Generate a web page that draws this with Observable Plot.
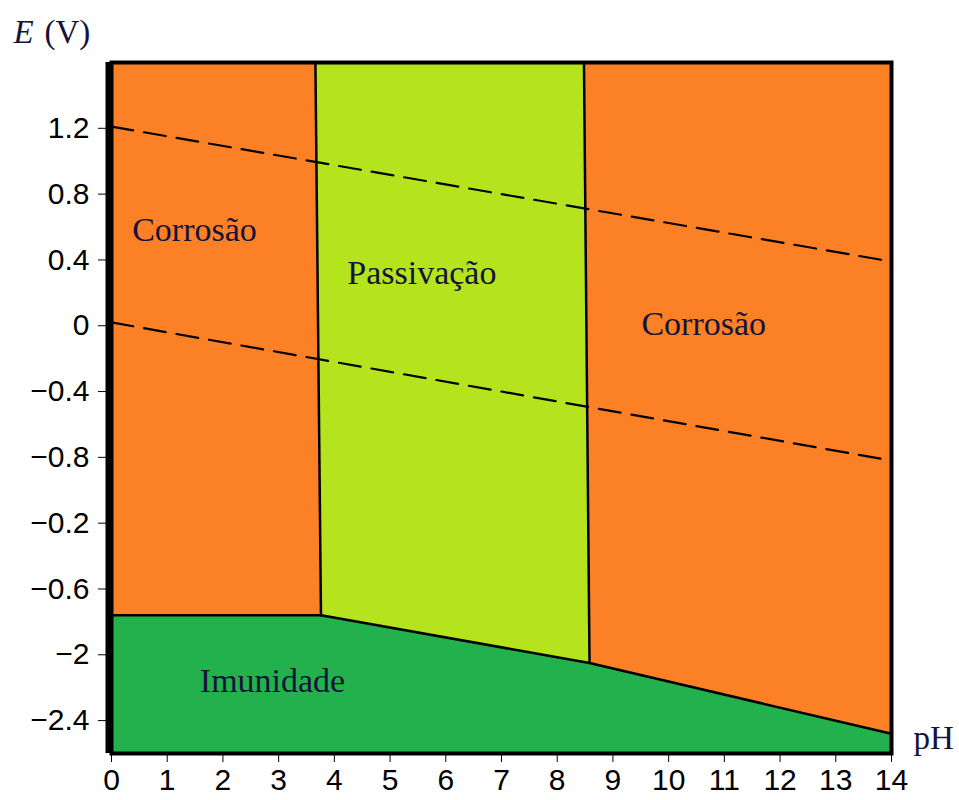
<!DOCTYPE html>
<html>
<head>
<meta charset="utf-8">
<script src="https://cdn.jsdelivr.net/npm/d3@7"></script>
<script src="https://cdn.jsdelivr.net/npm/@observablehq/plot@0.6"></script>
<style>
  html, body { margin: 0; padding: 0; background: #fff; }
</style>
</head>
<body>
<div id="chart"></div>
<script>
// ---- data ----
const phTicks = [0,1,2,3,4,5,6,7,8,9,10,11,12,13,14];
const eTicks = [1.2, 0.8, 0.4, 0, -0.4, -0.8, -1.2, -1.6, -2.0, -2.4];
const eTickLabels = ["1.2","0.8","0.4","0","\u22120.4","\u22120.8","\u22120.2","\u22120.6","\u22122","\u22122.4"];
const eDomain = [-2.6, 1.6];
const phDomain = [0, 14];

// immunity (lower) boundary
const immunityPH = [0, 3.76, 8.58, 14];
const immunityE  = [-1.76, -1.76, -2.05, -2.48];
// vertical-ish boundaries [top pH, bottom pH]
const leftBoundaryPH  = [3.66, 3.76];
const rightBoundaryPH = [8.48, 8.58];

// water stability lines (dashed)
const o2PH = [0, 14], o2E = [1.21, 0.39];
const h2PH = [0, 14], h2E = [0.02, -0.82];

// region labels
const regionNames = ["Corrosão", "Passivação", "Corrosão", "Imunidade"];
const labelPH = [1.49, 5.57, 10.63, 2.89];
const labelE  = [0.58, 0.32, 0.01, -2.16];

const colors = { corrosion: "#FC8026", passivation: "#B5E31E", immunity: "#22B14C" };

// ---- build polygons from the values ----
const eTop = eDomain[1], eBot = eDomain[0];
const zip = (xs, ys) => xs.map((x, i) => ({ph: x, e: ys[i]}));
const leftCorr = [
  {ph: phDomain[0], e: eTop}, {ph: leftBoundaryPH[0], e: eTop},
  {ph: leftBoundaryPH[1], e: immunityE[1]}, {ph: phDomain[0], e: immunityE[0]}
];
const passiv = [
  {ph: leftBoundaryPH[0], e: eTop}, {ph: rightBoundaryPH[0], e: eTop},
  {ph: rightBoundaryPH[1], e: immunityE[2]}, {ph: leftBoundaryPH[1], e: immunityE[1]}
];
const rightCorr = [
  {ph: rightBoundaryPH[0], e: eTop}, {ph: phDomain[1], e: eTop},
  {ph: phDomain[1], e: immunityE[3]}, {ph: rightBoundaryPH[1], e: immunityE[2]}
];
const immun = [
  ...zip(immunityPH, immunityE),
  {ph: phDomain[1], e: eBot}, {ph: phDomain[0], e: eBot}
];
const immunityLine = zip(immunityPH, immunityE);
const leftLine = [{ph: leftBoundaryPH[0], e: eTop}, {ph: leftBoundaryPH[1], e: immunityE[1]}];
const rightLine = [{ph: rightBoundaryPH[0], e: eTop}, {ph: rightBoundaryPH[1], e: immunityE[2]}];
const labels = regionNames.map((t, i) => ({t, ph: labelPH[i], e: labelE[i]}));

const serif = "'Liberation Serif', 'Times New Roman', serif";
const textColor = "#14143a";

const poly = (data, fill) => Plot.line(data, {x: "ph", y: "e", fill, stroke: "none", curve: "linear-closed"});

const chart = Plot.plot({
  width: 959,
  height: 800,
  marginLeft: 111,
  marginRight: 68,
  marginTop: 62,
  marginBottom: 47,
  style: { fontFamily: "'Liberation Sans', Arial, sans-serif", fontSize: "30px", color: "#000", background: "#fff" },
  x: { domain: phDomain },
  y: { domain: eDomain },
  marks: [
    poly(leftCorr, colors.corrosion),
    poly(passiv, colors.passivation),
    poly(rightCorr, colors.corrosion),
    poly(immun, colors.immunity),
    Plot.line(immunityLine, {x: "ph", y: "e", stroke: "#000", strokeWidth: 2.5}),
    Plot.line(leftLine, {x: "ph", y: "e", stroke: "#000", strokeWidth: 2.5}),
    Plot.line(rightLine, {x: "ph", y: "e", stroke: "#000", strokeWidth: 2.5}),
    Plot.line(zip(o2PH, o2E), {x: "ph", y: "e", stroke: "#000", strokeWidth: 2.2, strokeDasharray: "22,11"}),
    Plot.line(zip(h2PH, h2E), {x: "ph", y: "e", stroke: "#000", strokeWidth: 2.2, strokeDasharray: "22,11"}),
    Plot.text(labels, {x: "ph", y: "e", text: "t", fontFamily: serif, fontSize: 34, fill: textColor}),
    Plot.axisX({ticks: phTicks, tickSize: 9, tickPadding: 6, label: null, fontSize: 30}),
    Plot.axisY({ticks: eTicks, tickSize: 13, tickPadding: 9, label: null, fontSize: 30,
      tickFormat: (d) => eTickLabels[eTicks.indexOf(d)]}),
    Plot.frame({stroke: "#000", strokeWidth: 4}),
    Plot.ruleX([phDomain[0]], {stroke: "#000", strokeWidth: 6, dx: -3}),
    Plot.text(["E"], {frameAnchor: "top-left", dx: -98, dy: -20, textAnchor: "start", lineAnchor: "bottom",
      fontFamily: serif, fontStyle: "italic", fontSize: 33, fill: textColor}),
    Plot.text(["(V)"], {frameAnchor: "top-left", dx: -67, dy: -20, textAnchor: "start", lineAnchor: "bottom",
      fontFamily: serif, fontSize: 33, fill: textColor}),
    Plot.text(["pH"], {frameAnchor: "bottom-right", dx: 22, dy: -5, textAnchor: "start", lineAnchor: "bottom",
      fontFamily: serif, fontSize: 33, fill: textColor})
  ]
});
document.getElementById("chart").appendChild(chart);
</script>
</body>
</html>
